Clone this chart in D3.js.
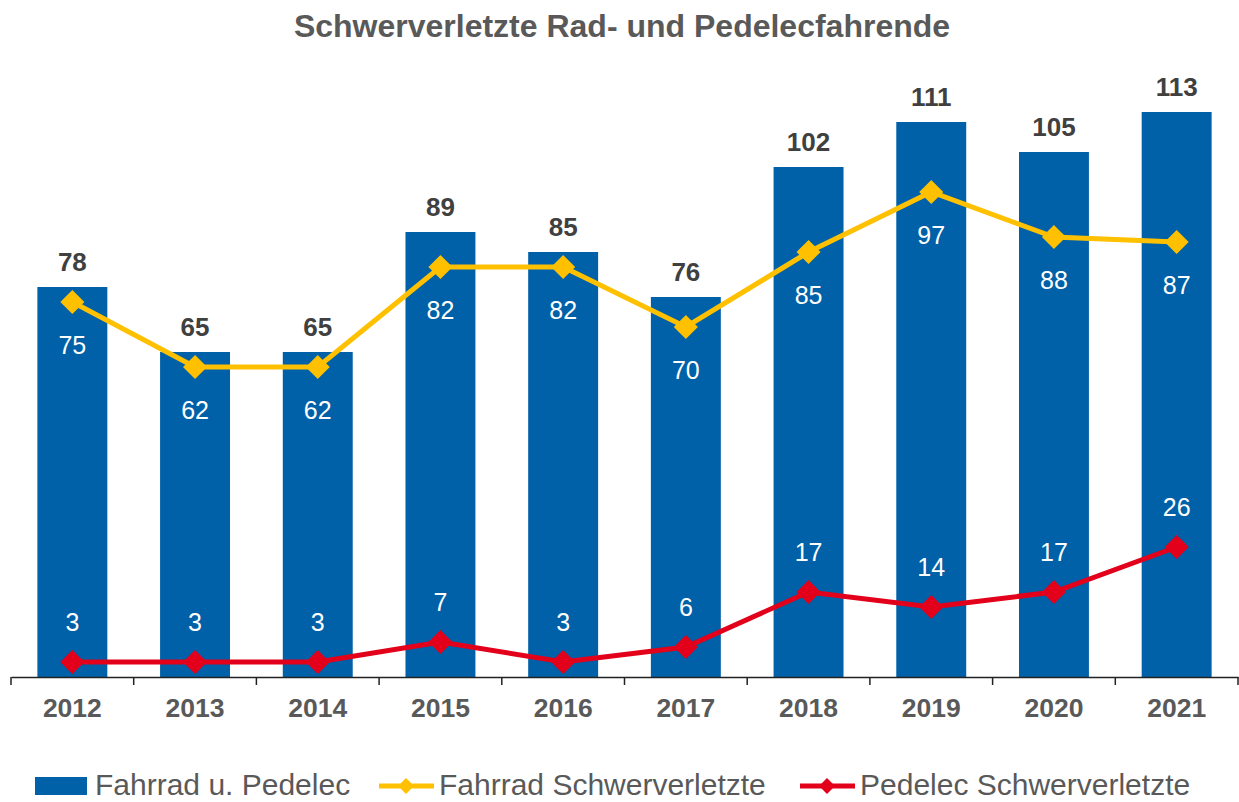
<!DOCTYPE html>
<html>
<head>
<meta charset="utf-8">
<script src="https://cdn.jsdelivr.net/npm/d3@7"></script>
<style>
  body { margin: 0; background: #fff; }
  svg text { font-family: "Liberation Sans", Arial, sans-serif; }
</style>
</head>
<body>
<div id="chart"></div>
<script>
const years = ["2012", "2013", "2014", "2015", "2016", "2017", "2018", "2019", "2020", "2021"];
const totalValues = [78, 65, 65, 89, 85, 76, 102, 111, 105, 113];
const bikeValues = [75, 62, 62, 82, 82, 70, 85, 97, 88, 87];
const pedelecValues = [3, 3, 3, 7, 3, 6, 17, 14, 17, 26];
const seriesNames = ["Fahrrad u. Pedelec", "Fahrrad Schwerverletzte", "Pedelec Schwerverletzte"];

const width = 1239, height = 802;
const blue = "#0060a8", yellow = "#ffc000", red = "#e2001a";

const svg = d3.select("#chart").append("svg")
    .attr("width", width)
    .attr("height", height);

const x = d3.scaleBand()
    .domain(years)
    .range([11, 1238])
    .paddingInner(0.43)
    .paddingOuter(0.215);

const y = d3.scaleLinear()
    .domain([0, 135])
    .range([677, 2]);

svg.append("text")
    .attr("x", 622)
    .attr("y", 37)
    .attr("text-anchor", "middle")
    .attr("font-size", 32)
    .attr("font-weight", "bold")
    .attr("fill", "#595959")
    .text("Schwerverletzte Rad- und Pedelecfahrende");

// bars
svg.selectAll("rect.bar")
    .data(totalValues)
    .enter()
    .append("rect")
    .attr("class", "bar")
    .attr("x", (d, i) => x(years[i]))
    .attr("y", d => y(d))
    .attr("width", x.bandwidth())
    .attr("height", d => y(0) - y(d))
    .attr("fill", blue);

svg.selectAll("text.barlabel")
    .data(totalValues)
    .enter()
    .append("text")
    .attr("class", "barlabel")
    .attr("x", (d, i) => x(years[i]) + x.bandwidth() / 2)
    .attr("y", d => y(d) - 16)
    .attr("text-anchor", "middle")
    .attr("font-size", 26)
    .attr("font-weight", "bold")
    .attr("fill", "#404040")
    .text(d => d);

// axis
const axis = d3.axisBottom(x).tickSize(0);
const gx = svg.append("g")
    .attr("transform", `translate(0,${y(0)})`)
    .call(axis);
gx.select(".domain").attr("stroke", "#222").attr("stroke-width", 1.5);
gx.selectAll(".tick text")
    .attr("y", 40)
    .attr("dy", 0)
    .attr("font-size", 26.5)
    .attr("font-weight", "bold")
    .attr("fill", "#595959")
    .attr("font-family", "Liberation Sans, Arial, sans-serif");

const boundaries = d3.range(years.length + 1).map(i => 11 + i * (1227 / years.length));
svg.selectAll("line.tick")
    .data(boundaries)
    .enter()
    .append("line")
    .attr("x1", d => d).attr("x2", d => d)
    .attr("y1", y(0)).attr("y2", y(0) + 8)
    .attr("stroke", "#222")
    .attr("stroke-width", 1.5);

const cx = i => x(years[i]) + x.bandwidth() / 2;
const diamond = d3.symbol().type(d3.symbolDiamond2).size(370);

function drawLine(values, color, labelDy) {
    const line = d3.line()
        .x((d, i) => cx(i))
        .y(d => y(d));
    svg.append("path")
        .datum(values)
        .attr("d", line)
        .attr("fill", "none")
        .attr("stroke", color)
        .attr("stroke-width", 5);
    svg.selectAll(null)
        .data(values)
        .enter()
        .append("path")
        .attr("d", diamond)
        .attr("transform", (d, i) => `translate(${cx(i)},${y(d)})`)
        .attr("fill", color);
    svg.selectAll(null)
        .data(values)
        .enter()
        .append("text")
        .attr("x", (d, i) => cx(i))
        .attr("y", d => y(d) + labelDy)
        .attr("text-anchor", "middle")
        .attr("font-size", 25)
        .attr("fill", "#fff")
        .text(d => d);
}

drawLine(bikeValues, yellow, 52);
drawLine(pedelecValues, red, -31);

// legend
const legend = svg.append("g").attr("font-size", 30);
legend.append("rect")
    .attr("x", 35).attr("y", 777).attr("width", 52).attr("height", 18)
    .attr("fill", blue);
legend.append("text").attr("x", 95).attr("y", 795).attr("fill", "#595959").text(seriesNames[0]);

function legendLine(x0, color, label) {
    legend.append("line")
        .attr("x1", x0).attr("x2", x0 + 55)
        .attr("y1", 786).attr("y2", 786)
        .attr("stroke", color).attr("stroke-width", 5);
    legend.append("path")
        .attr("d", d3.symbol().type(d3.symbolDiamond2).size(160))
        .attr("transform", `translate(${x0 + 27},786)`)
        .attr("fill", color);
    legend.append("text").attr("x", x0 + 60).attr("y", 795).attr("fill", "#595959").text(label);
}
legendLine(379, yellow, seriesNames[1]);
legendLine(800, red, seriesNames[2]);
</script>
</body>
</html>
